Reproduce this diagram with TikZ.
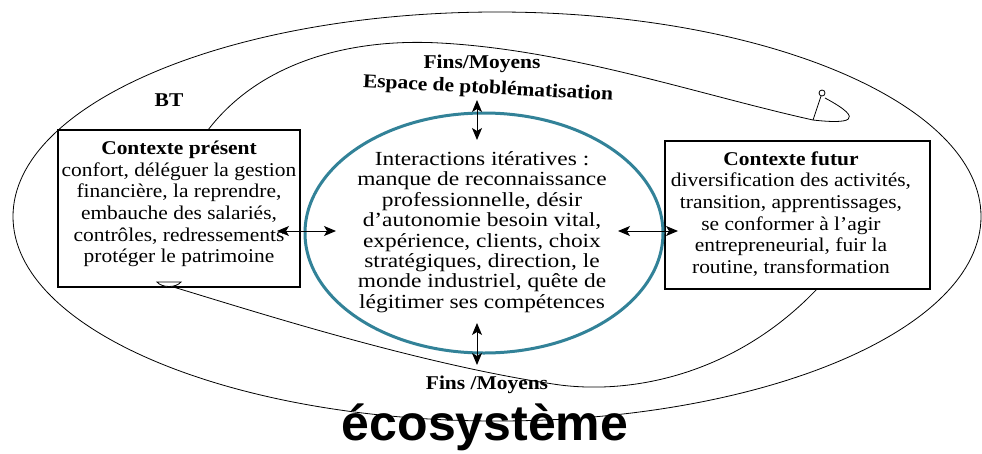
\documentclass[tikz,border=0pt]{standalone}
\usepackage{fontspec}
\setmainfont{Liberation Serif}[FakeStretch=1.1]
\newfontfamily\ellfont{Liberation Serif}[FakeStretch=1.17]
\newfontfamily\ecofont{Liberation Sans}
\usetikzlibrary{shapes.geometric,arrows.meta}
\definecolor{tealc}{RGB}{50,130,152}
\begin{document}
\begin{tikzpicture}[x=1pt,y=-1pt,
  thinline/.style={line width=0.8pt},
  dbl/.style={line width=1pt,{Stealth[length=12pt,width=10pt,inset=3pt]}-{Stealth[length=12pt,width=10pt,inset=3pt]}},
  boxstyle/.style={draw,line width=1.1pt,rectangle,inner sep=0pt},
  boxtext/.style={align=center,inner sep=0pt,font=\fontsize{19.5}{21.6}\selectfont},
  elltext/.style={align=center,inner sep=0pt,font=\ellfont\fontsize{20}{20.4}\selectfont},
  lbl/.style={inner sep=0pt,font=\bfseries\fontsize{19.5}{21}\selectfont}]
\useasboundingbox (0,0) rectangle (982,453);
\fill[white] (0,0) rectangle (982,453);
% outer ecosystem ellipse
\node[draw,ellipse,thinline,minimum width=968pt,minimum height=409pt,inner sep=0pt] (eco) at (497,216.5) {};
% boxes
\node[boxstyle,minimum width=242pt,minimum height=157pt] (pres) at (179,208.5) {};
\node[boxtext] (prestext) at (179,204) {\textbf{Contexte présent}\\confort, déléguer la gestion\\financière, la reprendre,\\embauche des salariés,\\contrôles, redressements\\protéger le patrimoine};
\node[boxstyle,minimum width=265pt,minimum height=148pt] (fut) at (797.5,215) {};
\node[boxtext] (futtext) at (791,214) {\textbf{Contexte futur}\\diversification des activités,\\transition, apprentissages,\\se conformer à l’agir\\entrepreneurial, fuir la\\routine, transformation};
% central ellipse
\node[draw=tealc,line width=3pt,ellipse,minimum width=358pt,minimum height=240pt,inner sep=0pt] (inter) at (484,233) {};
\node[elltext] (intertext) at (482,232) {Interactions itératives :\\manque de reconnaissance\\professionnelle, désir\\d’autonomie besoin vital,\\expérience, clients, choix\\stratégiques, direction, le\\monde industriel, quête de\\légitimer ses compétences};
% labels
\node[lbl] (bt) at (169,100) {BT};
\node[lbl] (fmtop) at (482,64) {Fins/Moyens};
\node[lbl,rotate=-3] (esp) at (488,89) {Espace de ptoblématisation};
\node[lbl] (fmbot) at (487,385) {Fins /Moyens};
\node[inner sep=0pt,font=\ecofont\bfseries\fontsize{50}{50}\selectfont] (ecos) at (485,427) {écosystème};
% arrows
\coordinate (ta1) at (477,100); \coordinate (ta2) at (477,140);
\coordinate (ba1) at (477,323); \coordinate (ba2) at (477,365);
\coordinate (la1) at (277,231); \coordinate (la2) at (336,231);
\coordinate (ra1) at (618,231); \coordinate (ra2) at (678,231);
\draw[dbl] (ta1) -- (ta2);
\draw[dbl] (ba1) -- (ba2);
\draw[dbl] (la1) -- (la2);
\draw[dbl] (ra1) -- (ra2);
% BT loop
\coordinate (bt1) at (208,130);
\coordinate (hook) at (813,120);
\coordinate (fut1) at (817,289);
\coordinate (ptip) at (170,286);
\draw[thinline] (bt1) .. controls (260,62) and (350,38) .. (440,43) .. controls (570,50) and (700,95) .. (hook);
\draw[thinline] (hook) .. controls (848,124) and (868,121) .. (825,98);
\draw[thinline] (hook) -- (821,96);
\draw[thinline] (822,93) circle (3pt);
\draw[thinline] (fut1) .. controls (740,370) and (640,395) .. (560,385) .. controls (420,365) and (250,310) .. (ptip);
\draw[thinline,fill=white] (157,282) .. controls (162,288) and (176,288) .. (181,282) -- cycle;
\end{tikzpicture}
\end{document}
